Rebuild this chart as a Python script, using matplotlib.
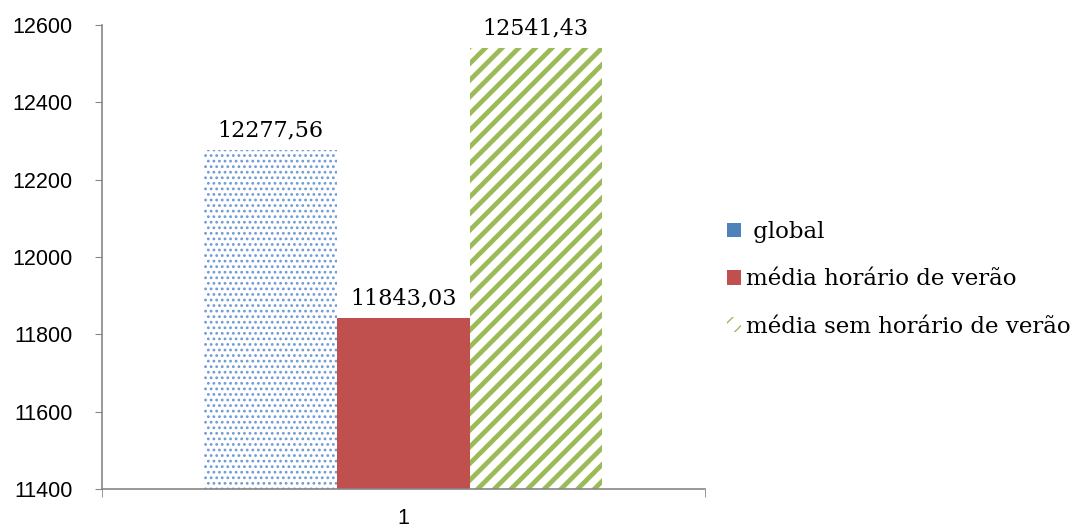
import numpy as np
import matplotlib
matplotlib.use("Agg")
import matplotlib.pyplot as plt

# médias por grupo
series = ["global", "média horário de verão", "média sem horário de verão"]
values = [12277.56, 11843.03, 12541.43]
categories = ["1"]
yticks = [11400, 11600, 11800, 12000, 12200, 12400, 12600]

blue = "#4F81BD"
red = "#C0504D"
green = "#9BBB59"
gray = "#868686"

fig = plt.figure(figsize=(10.84, 5.31), dpi=100)
ax = fig.add_axes([0.094, 0.079, 0.556, 0.874])

width = 0.22
offsets = [-width, 0, width]

b1 = ax.bar(1 + offsets[0], values[0], width, color="white",
            edgecolor="#6F9BD3", hatch="...", linewidth=0, label=series[0])
b2 = ax.bar(1 + offsets[1], values[1], width, color=red, linewidth=0,
            label=series[1])
b3 = ax.bar(1 + offsets[2], values[2], width, color="white",
            edgecolor=green, hatch="//", linewidth=0, label=series[2])
for p in b1:
    p.set_hatch_linewidth(1.2)
for p in b3:
    p.set_hatch_linewidth(3.4)

# rótulos com vírgula decimal
for bars, v in zip([b1, b2, b3], values):
    for p in bars:
        ax.annotate(f"{v:.2f}".replace(".", ","),
                    (p.get_x() + p.get_width() / 2, v),
                    xytext=(0, 6), textcoords="offset points",
                    ha="center", va="bottom", family="DejaVu Serif",
                    fontsize=16)

ax.set_xlim(0.5, 1.5)
ax.set_ylim(yticks[0], yticks[-1])
ax.set_yticks(yticks)
ax.set_xticks([1])
ax.set_xticklabels(categories)
ax.set_xticks([0.5, 1.5], minor=True)

ax.tick_params(axis="y", length=5, color=gray, labelsize=15.5, pad=16)
ax.tick_params(axis="x", which="major", length=0, labelsize=15.5, pad=14)
ax.tick_params(axis="x", which="minor", length=6, color=gray)
for lbl in ax.get_yticklabels() + ax.get_xticklabels():
    lbl.set_family("Liberation Sans")

for s in ["top", "right"]:
    ax.spines[s].set_visible(False)
for s in ["left", "bottom"]:
    ax.spines[s].set_color(gray)
    ax.spines[s].set_linewidth(1.2)

leg = fig.legend(handles=[b1, b2, b3],
                 labels=[" " + series[0], series[1], series[2]],
                 loc="center left", bbox_to_anchor=(0.652, 0.474),
                 frameon=False, prop={"family": "DejaVu Serif", "size": 16.5},
                 handlelength=0.6, handleheight=0.6, handletextpad=0.2,
                 labelspacing=1.1)
# marcador azul da legenda em cor sólida
leg.legend_handles[0].set_facecolor(blue)
leg.legend_handles[0].set_hatch(None)

fig.savefig("out.png", dpi=100)
